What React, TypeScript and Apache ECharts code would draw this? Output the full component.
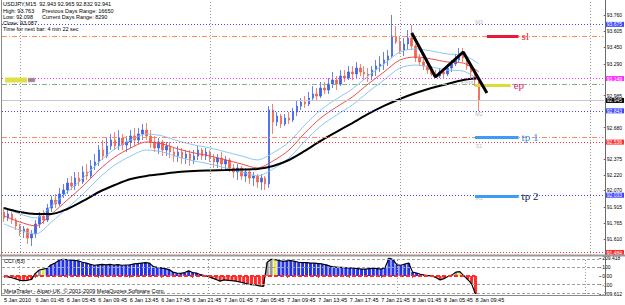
import React, { useEffect, useRef } from 'react';
import * as echarts from 'echarts';

// ---------- time axis ----------
const START_MS = Date.UTC(2010, 0, 5, 21, 45);
const SLOT_MINUTES = 30;
const SLOT_COUNT = 152;
const categories: string[] = Array.from({ length: SLOT_COUNT }, (_, i) => {
  const d = new Date(START_MS + i * SLOT_MINUTES * 60000);
  const hh = String(d.getUTCHours()).padStart(2, '0');
  const mm = String(d.getUTCMinutes()).padStart(2, '0');
  return `${d.getUTCDate()} Jan ${hh}:${mm}`;
});
const TICK_EVERY = 8;
const timeTickLabels = [
  '5 Jan 2010', '6 Jan 01:45', '6 Jan 05:45', '6 Jan 09:45', '6 Jan 13:45', '6 Jan 17:45',
  '6 Jan 21:45', '7 Jan 01:45', '7 Jan 05:45', '7 Jan 09:45', '7 Jan 13:45', '7 Jan 17:45',
  '7 Jan 21:45', '8 Jan 01:45', '8 Jan 05:45', '8 Jan 09:45',
];
const daySeparators = ['5 Jan 23:45', '6 Jan 23:45', '7 Jan 23:45', '8 Jan 23:45'];

// ---------- price candles (30-minute bars) ----------
const firstOpen = 91.869;
const closes = [
  91.811, 91.850, 91.792, 91.734, 91.677, 91.706, 91.619, 91.658, 91.754, 91.830,
  91.792, 91.907, 91.984, 91.946, 92.042, 92.080, 92.147, 92.118, 92.195, 92.157,
  92.253, 92.214, 92.310, 92.349, 92.464, 92.406, 92.502, 92.560, 92.502, 92.579,
  92.512, 92.541, 92.598, 92.560, 92.618, 92.656, 92.598, 92.541, 92.483, 92.541,
  92.464, 92.502, 92.445, 92.406, 92.445, 92.387, 92.426, 92.368, 92.406, 92.464,
  92.406, 92.445, 92.387, 92.349, 92.387, 92.330, 92.368, 92.291, 92.253, 92.291,
  92.214, 92.253, 92.195, 92.214, 92.157, 92.195, 92.138, 92.848, 92.733, 92.790,
  92.714, 92.771, 92.752, 92.829, 92.886, 92.925, 92.906, 92.963, 93.002, 92.982,
  93.059, 93.040, 93.098, 93.136, 93.098, 93.174, 93.155, 93.213, 93.194, 93.251,
  93.213, 93.194, 93.174, 93.232, 93.270, 93.290, 93.328, 93.366, 93.558, 93.501,
  93.424, 93.482, 93.539, 93.462, 93.347, 93.309, 93.270, 93.232, 93.194, 93.174,
  93.213, 93.194, 93.251, 93.290, 93.328, 93.386, 93.347, 93.270, 93.213, 93.136,
  92.941,
];
const highs = [
  91.917, 91.888, 91.869, 91.811, 91.754, 91.734, 91.715, 91.696, 91.792, 91.869,
  91.888, 91.946, 92.022, 92.042, 92.099, 92.138, 92.195, 92.214, 92.253, 92.253,
  92.310, 92.330, 92.368, 92.426, 92.512, 92.560, 92.579, 92.618, 92.637, 92.656,
  92.618, 92.598, 92.656, 92.675, 92.675, 92.714, 92.723, 92.656, 92.598, 92.579,
  92.560, 92.541, 92.541, 92.483, 92.502, 92.483, 92.464, 92.464, 92.464, 92.502,
  92.483, 92.483, 92.464, 92.426, 92.426, 92.445, 92.406, 92.387, 92.330, 92.330,
  92.310, 92.291, 92.272, 92.253, 92.234, 92.234, 92.214, 92.886, 92.906, 92.829,
  92.810, 92.810, 92.829, 92.867, 92.944, 92.963, 92.982, 93.021, 93.078, 93.059,
  93.117, 93.117, 93.155, 93.213, 93.174, 93.232, 93.232, 93.270, 93.270, 93.309,
  93.290, 93.270, 93.251, 93.270, 93.328, 93.366, 93.405, 93.424, 93.760, 93.654,
  93.558, 93.539, 93.616, 93.664, 93.482, 93.386, 93.347, 93.309, 93.270, 93.232,
  93.251, 93.251, 93.290, 93.328, 93.386, 93.443, 93.443, 93.366, 93.290, 93.232,
  93.136,
];
const lows = [
  91.773, 91.782, 91.754, 91.696, 91.638, 91.619, 91.562, 91.542, 91.619, 91.715,
  91.754, 91.773, 91.869, 91.907, 91.926, 92.003, 92.042, 92.080, 92.080, 92.118,
  92.138, 92.176, 92.195, 92.272, 92.310, 92.368, 92.387, 92.464, 92.464, 92.464,
  92.464, 92.445, 92.483, 92.502, 92.522, 92.560, 92.560, 92.483, 92.445, 92.426,
  92.406, 92.406, 92.387, 92.349, 92.349, 92.330, 92.330, 92.310, 92.330, 92.368,
  92.368, 92.368, 92.349, 92.291, 92.291, 92.272, 92.272, 92.253, 92.195, 92.176,
  92.176, 92.157, 92.138, 92.118, 92.099, 92.080, 92.080, 92.099, 92.618, 92.694,
  92.675, 92.694, 92.714, 92.733, 92.790, 92.848, 92.867, 92.886, 92.944, 92.944,
  92.963, 93.002, 93.002, 93.059, 93.040, 93.078, 93.117, 93.136, 93.136, 93.155,
  93.174, 93.136, 93.117, 93.136, 93.174, 93.213, 93.232, 93.270, 93.347, 93.482,
  93.386, 93.366, 93.424, 93.424, 93.309, 93.270, 93.232, 93.194, 93.174, 93.155,
  93.155, 93.155, 93.174, 93.213, 93.270, 93.309, 93.309, 93.232, 93.155, 93.078,
  92.838,
];

// ---------- moving averages (read every 4th bar) ----------
const MA_STEP = 4;
const maSlow = [
  91.908, 91.869, 91.850, 91.850, 91.898, 91.975, 92.061, 92.128, 92.186, 92.215,
  92.234, 92.253, 92.263, 92.268, 92.272, 92.277, 92.282, 92.311, 92.368, 92.455,
  92.551, 92.638, 92.723, 92.810, 92.887, 92.954, 93.011, 93.059, 93.098, 93.136,
  93.155,
];
const maMid = [
  91.831, 91.773, 91.735, 91.850, 91.984, 92.119, 92.272, 92.397, 92.483, 92.541,
  92.522, 92.474, 92.436, 92.407, 92.369, 92.330, 92.292, 92.360, 92.464, 92.627,
  92.771, 92.877, 92.973, 93.098, 93.213, 93.328, 93.357, 93.338, 93.309, 93.299,
  93.213,
];
const maUpper = [
  91.908, 91.850, 91.812, 91.927, 92.061, 92.196, 92.349, 92.474, 92.560, 92.618,
  92.599, 92.551, 92.513, 92.484, 92.446, 92.407, 92.369, 92.437, 92.541, 92.704,
  92.848, 92.954, 93.050, 93.175, 93.290, 93.405, 93.434, 93.415, 93.386, 93.376,
  93.290,
];
const maLower = [
  91.754, 91.696, 91.658, 91.773, 91.907, 92.042, 92.195, 92.320, 92.406, 92.464,
  92.445, 92.397, 92.359, 92.330, 92.292, 92.253, 92.215, 92.283, 92.387, 92.550,
  92.694, 92.800, 92.896, 93.021, 93.136, 93.251, 93.280, 93.261, 93.232, 93.222,
  93.136,
];

// ---------- CCI (63) ----------
const cci = [
  -5, -10, -20, -35, -50, -55, -50, -40, 30, 70,
  80, 90, 130, 150, 180, 195, 190, 185, 180, 175,
  160, 150, 135, 125, 130, 135, 130, 135, 128, 132,
  125, 128, 130, 140, 145, 150, 155, 150, 110, 100,
  95, 85, 75, 45, 35, 30, 40, 60, 40, 35,
  15, 5, -5, -25, -40, -60, -45, -50, -55, -60,
  -70, -80, -95, -100, -105, -115, -120, 160, 195, 190,
  180, 170, 175, 180, 170, 160, 155, 155, 150, 150,
  145, 140, 130, 115, 105, 100, 100, 95, 95, 90,
  85, 80, 80, 85, 90, 85, 80, 100, 209.418, 190,
  130, 125, 140, 150, 45, 35, 20, 10, 5, 0,
  -20, -45, -30, -5, 10, 45, 50, 5, -40, -90,
  -209.612,
];
const cciTicks = [209.418, 100, 0, -100, -209.612];
const cciTickLabels = ['209.418', '100', '0.00', '-100', '-209.612'];
const cciLevels = [200, 100, -100, -200];

// ---------- price axis: where each label sits, and its text ----------
const priceTickValues = [93.76, 93.605, 93.45, 93.29, 92.985, 92.68, 92.375, 92.22, 92.079, 91.915, 91.765, 91.61];
const priceTickLabels = ['93.760', '93.605', '93.450', '93.290', '92.985', '92.680', '92.375', '92.220', '92.070', '91.915', '91.765', '91.610'];

// ---------- horizontal levels ----------
const levelPrices = [93.675, 93.56, 93.149, 93.1, 92.945, 92.843, 92.59, 92.536, 92.033, 91.484];
const levelKinds = ['mid', 'stop', 'pivot', 'close', 'bid', 'mid', 'stop', 'support', 'mid', 'support'];
const pivotNames = ['M3', 'Pivot', 'M2', 'S1', 'M1'];
const pivotPrices = [93.675, 93.149, 92.843, 92.536, 92.033];
const pivotTimes = ['8 Jan 09:45', '8 Jan 08:15', '8 Jan 09:45', '8 Jan 09:45', '8 Jan 09:45'];

// ---------- trade annotations ----------
const tradeNames = ['sl', 'ep', 'tp 1', 'tp 2'];
const tradePrices = [93.56, 93.09, 92.589, 92.022];
const tradeFrom = ['8 Jan 10:45', '8 Jan 09:15', '8 Jan 09:15', '8 Jan 09:15'];
const tradeTo = ['8 Jan 14:45', '8 Jan 13:45', '8 Jan 14:45', '8 Jan 14:45'];
const zigzagTimes = ['8 Jan 01:15', '8 Jan 04:15', '8 Jan 07:45', '8 Jan 10:45'];
const zigzagPrices = [93.587, 93.165, 93.405, 93.011];

const infoLeft = ['USDJPY,M15  92.943 92.965 92.832 92.941', 'High: 93.763', 'Low: 92.098', 'Close: 93.087', 'Time for next bar: 4 min 22 sec'];
const infoRight = ['', 'Previous Days Range: 16650', 'Current Days Range: 8290', '', ''];

const FONT = 'Liberation Sans, Arial, sans-serif';
const SERIF = 'Liberation Serif, Times New Roman, serif';

const levelStyle: any = {
  mid: { color: '#3c46ff', type: [1, 2], box: '#3c46ff', text: '#ffffff' },
  stop: { color: '#ff8a5c', type: [5, 2, 1, 2], box: null },
  pivot: { color: '#ff2cff', type: [1, 2], box: '#ff2cff', text: '#ffffff' },
  close: { color: '#7fb27f', type: [5, 2, 1, 2], box: null },
  bid: { color: '#c8c8c8', type: 'solid', box: '#000000', text: '#ffffff' },
  support: { color: '#ff3030', type: [1, 2], box: '#ff3030', text: '#ffffff' },
};
const tradeLineColors = ['#e8173c', '#dcdc3c', '#3d9df5', '#3d9df5'];
const tradeTextColors = ['#e8173c', '#e8206e', '#2f8ff0', '#141450'];

function buildOption() {
  const opens = closes.map((_, i) => (i === 0 ? firstOpen : closes[i - 1]));
  const candleData = closes.map((c, i) => [opens[i], c, lows[i], highs[i]]);
  const maPairs = (arr: number[]) => arr.map((v, k) => [categories[k * MA_STEP], v]);

  const cciColor = (i: number) => {
    const v = cci[i];
    if (v < 0) return '#ff2a2a';
    if ((i >= 1 && cci[i - 1] < 0) || (i >= 2 && cci[i - 2] < 0)) return '#9a9a9a';
    if (i >= 3 && cci[i - 3] < 0) return '#e8e840';
    return '#2233ee';
  };

  const dayLines = daySeparators.map((c) => ({
    xAxis: c,
    lineStyle: { color: '#9a9a9a', type: [1, 2], width: 1 },
    label: { show: false },
  }));

  const levelLines = levelPrices.map((p, k) => {
    const s = levelStyle[levelKinds[k]];
    return {
      yAxis: p,
      lineStyle: { color: s.color, type: s.type, width: 1 },
      label: s.box
        ? {
            show: true,
            position: 'end',
            formatter: p.toFixed(3),
            backgroundColor: s.box,
            color: s.text,
            fontSize: 5,
            lineHeight: 5,
            fontFamily: FONT,
            padding: [0, 2, 0, 1],
            distance: 2,
          }
        : { show: false },
    };
  });

  const tradeLines = tradeNames.map((n, k) => [
    {
      coord: [tradeFrom[k], tradePrices[k]],
      lineStyle: { color: tradeLineColors[k], width: 3, type: 'solid' },
      label: {
        show: true,
        position: 'end',
        formatter: n,
        color: tradeTextColors[k],
        fontSize: 11,
        fontFamily: SERIF,
        distance: 3,
      },
    },
    { coord: [tradeTo[k], tradePrices[k]] },
  ]);

  const graphics: any[] = [];
  infoLeft.forEach((t, k) => {
    graphics.push({
      type: 'text', x: 3, y: 4.3 + k * 6.25, z: 100,
      style: { text: t, fontSize: 5.5, fontFamily: FONT, fill: '#000', verticalAlign: 'middle' },
    });
    if (infoRight[k]) {
      graphics.push({
        type: 'text', x: 42, y: 4.3 + k * 6.25, z: 100,
        style: { text: infoRight[k], fontSize: 5.5, fontFamily: FONT, fill: '#000', verticalAlign: 'middle' },
      });
    }
  });
  graphics.push(
    { type: 'rect', shape: { x: 5, y: 77.5, width: 22, height: 5 }, style: { fill: '#e0e044' }, z: 50 },
    { type: 'rect', shape: { x: 28, y: 78, width: 7, height: 4 }, style: { fill: '#8c8c8c', stroke: '#ff88ff', lineWidth: 0.5 }, z: 50 },
    { type: 'text', x: 4, y: 261, z: 100, style: { text: 'CCI (63)', fontSize: 5.5, fontFamily: FONT, fill: '#000', verticalAlign: 'middle' } },
    { type: 'text', x: 4, y: 291, z: 100, style: { text: 'MetaTrader - Alpari-UK, © 2001-2009 MetaQuotes Software Corp.', fontSize: 5.5, fontFamily: FONT, fill: '#000', verticalAlign: 'middle' } },
    { type: 'line', shape: { x1: 1.5, y1: 0, x2: 1.5, y2: 296 }, style: { stroke: '#8a8a8a', lineWidth: 1 }, z: 60 },
    { type: 'line', shape: { x1: 605.5, y1: 0, x2: 605.5, y2: 296 }, style: { stroke: '#6a6a6a', lineWidth: 1 }, z: 60 },
    { type: 'line', shape: { x1: 1, y1: 295.5, x2: 606, y2: 295.5 }, style: { stroke: '#8a8a8a', lineWidth: 1 }, z: 60 },
    { type: 'rect', shape: { x: 0, y: 254.5, width: 625, height: 2 }, style: { fill: '#9a9a9a' }, z: 60 },
  );

  return {
    animation: false,
    backgroundColor: '#ffffff',
    textStyle: { fontFamily: FONT },
    grid: [
      { left: 2, right: 20, top: 2, height: 253 },
      { left: 2, right: 20, top: 258, height: 36 },
    ],
    xAxis: [
      {
        type: 'category', gridIndex: 0, data: categories, boundaryGap: true,
        axisLine: { show: false }, axisTick: { show: false }, axisLabel: { show: false }, splitLine: { show: false },
      },
      {
        type: 'category', gridIndex: 1, data: categories, boundaryGap: true,
        axisLine: { show: false },
        axisTick: {
          show: true, length: 2, alignWithLabel: true,
          interval: (i: number) => i % TICK_EVERY === 0 && i / TICK_EVERY < timeTickLabels.length,
          lineStyle: { color: '#6a6a6a' },
        },
        axisLabel: {
          interval: (i: number) => i % TICK_EVERY === 0 && i / TICK_EVERY < timeTickLabels.length,
          formatter: (_v: string, i: number) => timeTickLabels[i / TICK_EVERY] || '',
          fontSize: 5.5, color: '#000', align: 'left', margin: 3, fontFamily: FONT,
        },
        splitLine: { show: false },
      },
    ],
    yAxis: [
      {
        type: 'value', gridIndex: 0, position: 'right', min: 91.456, max: 93.885,
        axisLine: { show: false },
        axisTick: { show: true, length: 2, customValues: priceTickValues, lineStyle: { color: '#6a6a6a' } },
        axisLabel: {
          customValues: priceTickValues,
          formatter: (v: number) => {
            const k = priceTickValues.findIndex((t) => Math.abs(t - v) < 1e-6);
            return k >= 0 ? priceTickLabels[k] : '';
          },
          fontSize: 5, lineHeight: 5, color: '#000', margin: 3, fontFamily: FONT,
        },
        splitLine: { show: false },
      },
      {
        type: 'value', gridIndex: 1, position: 'right', min: -209.612, max: 209.418,
        axisLine: { show: false },
        axisTick: { show: true, length: 2, customValues: cciTicks, lineStyle: { color: '#6a6a6a' } },
        axisLabel: {
          customValues: cciTicks,
          formatter: (v: number) => {
            const k = cciTicks.findIndex((t) => Math.abs(t - v) < 1e-6);
            return k >= 0 ? cciTickLabels[k] : '';
          },
          fontSize: 5, lineHeight: 5, color: '#000', margin: 3, fontFamily: FONT,
        },
        splitLine: { show: false },
      },
    ],
    graphic: graphics,
    series: [
      {
        type: 'candlestick', xAxisIndex: 0, yAxisIndex: 0, data: candleData, barWidth: 2,
        itemStyle: { color: '#3f63e6', color0: '#f2644e', borderColor: '#3f63e6', borderColor0: '#f2644e', borderWidth: 0.8 },
        markLine: {
          silent: true, symbol: ['none', 'none'], animation: false,
          data: [...dayLines, ...levelLines, ...tradeLines],
        },
      },
      {
        type: 'line', xAxisIndex: 0, yAxisIndex: 0, data: maPairs(maUpper), symbol: 'none', smooth: 0.3,
        lineStyle: { color: '#8cc4f2', width: 1 }, silent: true,
      },
      {
        type: 'line', xAxisIndex: 0, yAxisIndex: 0, data: maPairs(maLower), symbol: 'none', smooth: 0.3,
        lineStyle: { color: '#8cc4f2', width: 1 }, silent: true,
      },
      {
        type: 'line', xAxisIndex: 0, yAxisIndex: 0, data: maPairs(maMid), symbol: 'none', smooth: 0.3,
        lineStyle: { color: '#ee4a4a', width: 1 }, silent: true,
      },
      {
        type: 'line', xAxisIndex: 0, yAxisIndex: 0, data: maPairs(maSlow), symbol: 'none', smooth: 0.3,
        lineStyle: { color: '#000000', width: 2 }, silent: true,
      },
      {
        type: 'line', xAxisIndex: 0, yAxisIndex: 0,
        data: zigzagTimes.map((t, k) => [t, zigzagPrices[k]]), symbol: 'none',
        lineStyle: { color: '#000000', width: 3 }, silent: true, z: 5,
      },
      {
        type: 'scatter', xAxisIndex: 0, yAxisIndex: 0, symbolSize: 0, silent: true,
        data: pivotNames.map((n, k) => ({
          value: [pivotTimes[k], pivotPrices[k]],
          label: {
            show: true, formatter: n, position: 'inside', offset: [0, n === 'M3' ? -2 : 3],
            color: '#a8a8a8', fontSize: 5.5, fontFamily: FONT,
          },
        })),
      },
      {
        type: 'bar', xAxisIndex: 1, yAxisIndex: 1, data: cci.map((v, i) => ({ value: v, itemStyle: { color: cciColor(i) } })),
        barCategoryGap: '25%', silent: true,
        markLine: {
          silent: true, symbol: ['none', 'none'], animation: false,
          data: [
            ...dayLines,
            ...cciLevels.map((v) => ({ yAxis: v, lineStyle: { color: '#a0a0a0', type: [3, 2], width: 1 }, label: { show: false } })),
            [
              { coord: [categories[0], 0], lineStyle: { color: '#ff2a2a', type: [4, 2], width: 2 }, label: { show: false } },
              { coord: [categories[cci.length - 1], 0] },
            ],
          ],
        },
      },
      {
        type: 'line', xAxisIndex: 1, yAxisIndex: 1, data: cci, symbol: 'none', silent: true,
        lineStyle: { color: '#000000', width: 1.2 },
      },
    ],
  };
}

export default function App() {
  const ref = useRef<HTMLDivElement>(null);
  useEffect(() => {
    if (!ref.current) return;
    const chart = echarts.init(ref.current, null, { renderer: 'svg' });
    chart.setOption(buildOption() as any);
    return () => chart.dispose();
  }, []);
  return (
    <div
      ref={ref}
      style={{ position: 'fixed', left: 0, top: 0, width: 625, height: 305, background: '#ffffff' }}
    />
  );
}
